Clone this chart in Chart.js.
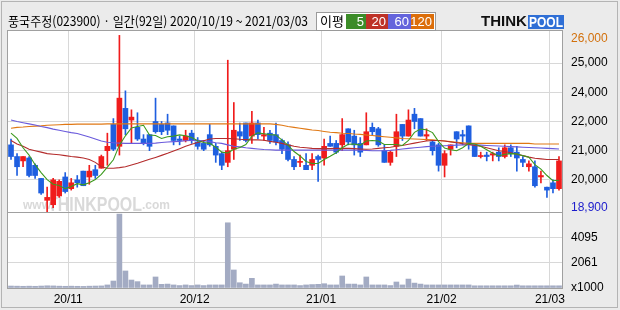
<!DOCTYPE html>
<html>
<head>
<meta charset="utf-8">
<script src="https://cdn.jsdelivr.net/npm/chart.js@4.4.0/dist/chart.umd.min.js"></script>
<style>
  html, body { margin: 0; padding: 0; background: #ebebeb; }
  canvas { display: block; }
</style>
</head>
<body>
<canvas id="chart" width="620" height="310"></canvas>
<script>
const stockName = '풍국주정';
const stockCode = '023900';

// trading days, 2020/10/19 ~ 2021/03/03
const dates = [
  '2020/10/19','2020/10/20','2020/10/21','2020/10/22','2020/10/23','2020/10/26','2020/10/27','2020/10/28','2020/10/29','2020/10/30',
  '2020/11/02','2020/11/03','2020/11/04','2020/11/05','2020/11/06','2020/11/09','2020/11/10','2020/11/11','2020/11/12','2020/11/13',
  '2020/11/16','2020/11/17','2020/11/18','2020/11/19','2020/11/20','2020/11/23','2020/11/24','2020/11/25','2020/11/26','2020/11/27','2020/11/30',
  '2020/12/01','2020/12/02','2020/12/03','2020/12/04','2020/12/07','2020/12/08','2020/12/09','2020/12/10','2020/12/11','2020/12/14',
  '2020/12/15','2020/12/16','2020/12/17','2020/12/18','2020/12/21','2020/12/22','2020/12/23','2020/12/24','2020/12/28','2020/12/29','2020/12/30',
  '2021/01/04','2021/01/05','2021/01/06','2021/01/07','2021/01/08','2021/01/11','2021/01/12','2021/01/13','2021/01/14','2021/01/15',
  '2021/01/18','2021/01/19','2021/01/20','2021/01/21','2021/01/22','2021/01/25','2021/01/26','2021/01/27','2021/01/28','2021/01/29',
  '2021/02/01','2021/02/02','2021/02/03','2021/02/04','2021/02/05','2021/02/08','2021/02/09','2021/02/10','2021/02/15','2021/02/16',
  '2021/02/17','2021/02/18','2021/02/19','2021/02/22','2021/02/23','2021/02/24','2021/02/25','2021/02/26',
  '2021/03/02','2021/03/03'
];

const opens = [
  21200,20800,20650,20750,20500,20050,19300,19150,19450,20100,
  19700,20000,20300,20100,20350,20400,21000,21900,21150,22450,
  22050,21800,21400,21550,22000,21900,21950,21850,21400,21350,21600,
  21300,21250,21550,21150,20900,20600,21050,21650,21950,21500,
  21950,21500,21600,21550,21350,21200,20700,20600,20500,20500,20800,
  20750,21250,21250,21200,21750,21500,21250,21200,21800,21750,
  21000,20600,21150,21900,21500,22250,22100,21500,21300,21200,
  20500,21050,21650,21550,21850,21200,20800,20850,20850,20950,
  20800,21100,20950,20700,20450,20450,20100,19750,
  19900,19700
];
const highs = [
  21400,20900,20800,20800,20550,20050,19750,20050,20000,20250,
  20050,20150,20300,20500,20500,20850,21600,22100,24950,23050,
  22400,22300,21550,21550,22800,22000,22250,21850,21500,21700,21700,
  21450,21350,21900,21250,20950,24100,22650,21950,21950,22350,
  22050,21800,21700,21950,21400,21300,20800,20850,20900,20900,20850,
  21400,21500,21350,22100,21750,21700,21450,22300,21950,21800,
  21200,21000,22250,21900,22400,22450,22100,21750,21350,21250,
  21000,21200,21650,21700,21850,21200,20950,20950,20950,21100,
  21200,21200,21150,20800,20650,20650,20300,19750,
  20000,20800
];
const lows = [
  20700,20150,20450,20100,20050,19500,18900,19050,19400,19550,
  19650,19750,19800,19850,20050,20400,20500,21000,20850,21550,
  21250,21350,21200,21000,21600,21550,21550,21200,21200,21300,21250,
  21050,21000,21150,20600,20350,20450,20700,21350,21300,21250,
  21400,21350,21250,21200,20900,20650,20350,20450,20350,20350,19950,
  20500,21150,20900,21000,21200,20850,20800,21200,21550,21150,
  20600,20500,20800,21350,21500,21750,21500,21350,20850,20300,
  20100,20850,21100,21200,21050,20800,20750,20650,20650,20650,
  20750,20800,20300,20450,20300,19750,19900,19400,
  19550,19650
];
const closes = [
  20800,20450,20800,20150,20150,19550,19400,20000,19950,19600,
  19900,19900,19800,20300,20150,20800,21150,21050,22800,21750,
  22150,21400,21250,21150,21650,21650,21700,21350,21350,21500,21350,
  21150,21050,21200,20850,20500,21000,21700,21500,21350,21950,
  21550,21550,21350,21300,21050,20700,20450,20600,20350,20700,20700,
  21150,21150,20950,21550,21300,21200,20950,21650,21650,21200,
  20600,20950,21650,21500,22050,22000,21500,21550,21000,20500,
  20900,21200,21400,21500,21250,20800,20800,20800,20900,20800,
  21100,20900,20750,20600,20550,19800,20150,19650,
  19700,20650
];

// volume, x1000 shares
const volumes = [
  160,150,140,150,140,160,180,170,150,140,
  150,140,130,150,160,170,250,570,6030,1390,
  650,520,250,250,900,300,320,250,200,250,200,
  250,200,250,250,250,5320,1470,430,320,790,
  250,250,250,320,250,250,250,200,250,280,300,
  350,250,250,980,320,320,250,900,250,250,
  250,200,490,250,730,400,320,250,250,250,
  250,250,250,250,250,180,180,180,180,180,
  180,180,240,180,180,180,180,180,
  180,180
];

const maPeriods = [5, 20, 60, 120];
const ma5 = [
  21600,21420,21100,20850,20520,20250,20010,19850,19810,19700,
  19770,19870,19830,19900,20010,20190,20440,20690,21190,21510,
  21780,21830,21870,21540,21520,21420,21480,21500,21540,21510,21450,
  21340,21280,21250,21120,20950,20920,21050,21110,21210,21500,
  21610,21580,21550,21540,21360,21190,20970,20820,20630,20560,20560,
  20700,20810,20930,21100,21220,21230,21190,21330,21350,21330,
  21210,21210,21210,21180,21350,21630,21740,21720,21620,21310,
  21090,21030,21000,21100,21250,21230,21150,21030,20910,20820,
  20880,20900,20890,20830,20780,20520,20370,20150,
  19970,19990
];
const ma20 = [
  21350,21230,21150,21050,21000,20950,20900,20880,20860,20830,
  20800,20780,20750,20700,20600,20450,20400,20400,20420,20450,
  20510,20570,20640,20705,20770,20840,20910,20990,21070,21150,21220,
  21280,21340,21400,21420,21420,21420,21410,21390,21380,21370,
  21370,21360,21320,21290,21250,21200,21150,21120,21100,21080,21070,
  21070,21070,21080,21080,21080,21070,21060,21050,21060,21080,
  21100,21120,21150,21180,21220,21260,21300,21330,21350,21350,
  21330,21300,21270,21240,21220,21180,21150,21100,21050,21000,
  20970,20930,20880,20830,20780,20740,20720,20700,
  20700,20700
];
const ma60 = [
  22050,22000,21960,21920,21880,21830,21790,21740,21700,21660,
  21620,21590,21530,21470,21400,21330,21290,21270,21260,21250,
  21250,21250,21250,21250,21260,21280,21300,21310,21320,21340,21350,
  21360,21340,21310,21270,21250,21200,21150,21130,21100,21080,
  21060,21040,21030,21020,21020,21020,21020,21020,21020,21020,21020,
  21020,21020,21020,21020,21020,21020,21020,21010,21000,21000,
  21000,21010,21030,21060,21080,21100,21120,21140,21150,21160,
  21170,21180,21190,21200,21200,21200,21190,21180,21170,21160,
  21150,21140,21130,21120,21110,21100,21090,21080,
  21070,21060
];
const ma120 = [
  21770,21800,21810,21830,21840,21850,21870,21880,21890,21900,
  21900,21910,21910,21910,21910,21910,21920,21920,21920,21920,
  21920,21920,21920,21920,21920,21920,21920,21920,21920,21920,21920,
  21920,21920,21920,21920,21920,21920,21920,21920,21920,21920,
  21920,21920,21920,21900,21870,21830,21800,21770,21740,21710,21690,
  21660,21630,21620,21600,21590,21570,21560,21540,21520,21500,
  21480,21460,21440,21420,21410,21400,21390,21380,21370,21350,
  21330,21310,21290,21270,21250,21250,21250,21250,21250,21250,
  21250,21250,21250,21250,21250,21230,21230,21230,
  21230,21230
];

const priceGridValues = [24000, 23000, 22000, 21000, 20000];
const priceTickLabels = ['26,000', '25,000', '24,000', '22,000', '21,000', '20,000', '18,900'];
const volumeTickValues = [0, 2061, 4095];
const volumeTickLabels = ['x1000', '2061', '4095'];

const UP = '#f01c1c';
const DOWN = '#1f5fe0';
const maColors = ['#3c9a1e', '#b42c2c', '#6a5adc', '#e07814'];
const legendColors = ['#3c8c28', '#be3228', '#6464dc', '#dc6e0a'];
const GRID = '#d8d8d8';
const FRAME = '#a0a0a0';
const LABEL_FONT = '"Liberation Sans", Arial, sans-serif';
const KR_FONT = '"Noto Sans CJK KR", sans-serif';

const candleColors = opens.map((o, i) => (closes[i] >= o ? UP : DOWN));
const isMonthStart = (i) => i > 0 && i < dates.length && dates[i].slice(5, 7) !== dates[i - 1].slice(5, 7);
const monthLabel = (i) => dates[i].slice(2, 4) + '/' + dates[i].slice(5, 7);

// draw text squeezed into a given width
function fitText(ctx, text, x, y, width) {
  const w = ctx.measureText(text).width;
  ctx.save();
  ctx.translate(x, y);
  if (w > width) ctx.scale(width / w, 1);
  ctx.fillText(text, 0, 0);
  ctx.restore();
}

const panelPlugin = {
  id: 'panels',
  beforeDraw(chart) {
    const { ctx, chartArea: a } = chart;
    ctx.save();
    ctx.fillStyle = '#ebebeb';
    ctx.fillRect(0, 0, chart.width, chart.height);
    ctx.fillStyle = '#ffffff';
    ctx.fillRect(a.left, a.top, a.right - a.left, a.bottom - a.top);
    ctx.restore();
  },
  beforeDatasetsDraw(chart) {
    // faint watermark inside the price panel
    const { ctx, chartArea: a } = chart;
    const bottom = chart.scales.y.bottom;
    ctx.save();
    ctx.fillStyle = 'rgba(180,180,180,0.5)';
    ctx.textBaseline = 'alphabetic';
    ctx.font = 'bold 12px ' + LABEL_FONT;
    ctx.fillText('www.', a.left + 15, bottom - 3);
    ctx.font = 'bold 20px ' + LABEL_FONT;
    fitText(ctx, 'THINKPOOL', a.left + 40, bottom - 1, 94);
    ctx.font = 'bold 12px ' + LABEL_FONT;
    ctx.fillText('.com', a.left + 134, bottom - 3);
    ctx.restore();
  },
  afterDatasetsDraw(chart) {
    const { ctx, chartArea: a } = chart;
    const sep = Math.round(chart.scales.y.bottom) + 0.5;
    ctx.save();
    ctx.strokeStyle = FRAME;
    ctx.lineWidth = 1;
    ctx.strokeRect(Math.round(a.left) - 0.5, Math.round(a.top) - 0.5, Math.round(a.right - a.left) + 1, Math.round(a.bottom - a.top) + 1);
    ctx.beginPath();
    ctx.moveTo(a.left, sep);
    ctx.lineTo(a.right, sep);
    ctx.stroke();
    ctx.restore();
  },
  afterDraw(chart) {
    const { ctx } = chart;
    const x = chart.scales.x;
    const step = x.width / dates.length;
    ctx.save();

    // month labels under the volume panel, centred on the month grid lines
    ctx.fillStyle = '#000';
    ctx.font = '12px ' + LABEL_FONT;
    ctx.textAlign = 'center';
    ctx.textBaseline = 'middle';
    dates.forEach((d, i) => {
      if (isMonthStart(i)) ctx.fillText(monthLabel(i), x.getPixelForValue(i) - step / 2, 300);
    });

    // title
    ctx.textAlign = 'left';
    ctx.font = '13px ' + KR_FONT;
    const title = stockName + '(' + stockCode + ') · 일간(' + dates.length + '일) ' +
      dates[0] + ' ~ ' + dates[dates.length - 1];
    fitText(ctx, title, 8, 21, 300);

    // moving average legend
    ctx.fillStyle = '#fff';
    ctx.fillRect(316, 12, 120, 19);
    ctx.strokeStyle = '#9a9a9a';
    ctx.strokeRect(316.5, 12.5, 119, 18);
    ctx.fillStyle = '#000';
    ctx.font = '13px ' + KR_FONT;
    ctx.fillText('이평', 320, 21);
    const boxW = [20, 22, 23, 23];
    let bx = 346;
    maPeriods.forEach((p, k) => {
      ctx.fillStyle = legendColors[k];
      ctx.fillRect(bx, 14, boxW[k], 15);
      ctx.fillStyle = '#fff';
      ctx.font = '13px ' + LABEL_FONT;
      ctx.textAlign = 'right';
      ctx.fillText(String(p), bx + boxW[k] - 2, 22);
      ctx.textAlign = 'left';
      bx += boxW[k];
    });

    // logo
    ctx.fillStyle = '#111';
    ctx.font = 'bold 15px ' + LABEL_FONT;
    fitText(ctx, 'THINK', 481, 22, 46);
    ctx.fillStyle = '#2f6fd6';
    ctx.fillRect(528, 15, 36, 14);
    ctx.fillStyle = '#fff';
    ctx.font = 'bold 15px ' + LABEL_FONT;
    fitText(ctx, 'POOL', 529, 22.5, 34);

    // outer frame
    ctx.strokeStyle = '#b4b4b4';
    ctx.strokeRect(1.5, 1.5, 616, 306);
    ctx.restore();
  }
};

new Chart(document.getElementById('chart'), {
  type: 'bar',
  data: {
    labels: dates,
    datasets: [
      ...maPeriods.map((p, k) => ({
        type: 'line',
        label: p + '일',
        data: [ma5, ma20, ma60, ma120][k],
        borderColor: maColors[k],
        borderWidth: 1.1,
        pointRadius: 0,
        tension: 0,
        yAxisID: 'y',
        order: 0
      })),
      {
        label: 'wick',
        data: lows.map((l, i) => [l, highs[i]]),
        backgroundColor: candleColors,
        barThickness: 1,
        grouped: false,
        yAxisID: 'y',
        order: 1
      },
      {
        label: 'body',
        data: opens.map((o, i) => [o, closes[i]]),
        backgroundColor: candleColors,
        barThickness: 5,
        minBarLength: 1,
        grouped: false,
        yAxisID: 'y',
        order: 1
      },
      {
        label: '거래량',
        data: volumes,
        backgroundColor: '#a3abc3',
        barThickness: 5,
        grouped: false,
        yAxisID: 'yv',
        order: 2
      }
    ]
  },
  options: {
    responsive: false,
    animation: false,
    layout: { padding: { left: 8, top: 31, right: 0, bottom: 22 } },
    plugins: { legend: { display: false }, tooltip: { enabled: false } },
    scales: {
      x: {
        offset: true,
        ticks: { display: false, autoSkip: false },
        grid: {
          offset: true,
          drawTicks: false,
          color: (c) => (isMonthStart(c.index) ? GRID : 'transparent')
        },
        border: { display: false }
      },
      y: {
        position: 'right',
        stack: 'panels',
        stackWeight: 181,
        min: 18900,
        max: 25100,
        afterBuildTicks: (s) => {
          // max / min labels sit just inside the panel edges
          const vals = [24850, ...priceGridValues, 19050];
          s.ticks = vals.map((v) => ({ value: v }));
        },
        afterFit: (s) => { s.width = 58; },
        ticks: {
          autoSkip: false,
          padding: 9,
          font: { family: LABEL_FONT, size: 12 },
          color: (c) => (c.index === 0 ? '#d2700c' : c.index === priceTickLabels.length - 1 ? '#1c1ccc' : '#000'),
          callback: (v, i) => priceTickLabels[i]
        },
        grid: {
          drawTicks: false,
          color: (c) => (c.index === 0 || c.index === priceTickLabels.length - 1 ? 'transparent' : GRID)
        },
        border: { display: false }
      },
      yv: {
        position: 'right',
        stack: 'panels',
        stackWeight: 76,
        min: 0,
        max: 6200,
        afterBuildTicks: (s) => { s.ticks = volumeTickValues.map((v) => ({ value: v })); },
        afterFit: (s) => { s.width = 58; },
        ticks: {
          autoSkip: false,
          padding: 9,
          font: { family: LABEL_FONT, size: 12 },
          color: '#000',
          callback: (v, i) => volumeTickLabels[i]
        },
        grid: {
          drawTicks: false,
          color: (c) => (c.index === 0 ? 'transparent' : GRID)
        },
        border: { display: false }
      }
    }
  },
  plugins: [panelPlugin]
});
</script>
</body>
</html>
